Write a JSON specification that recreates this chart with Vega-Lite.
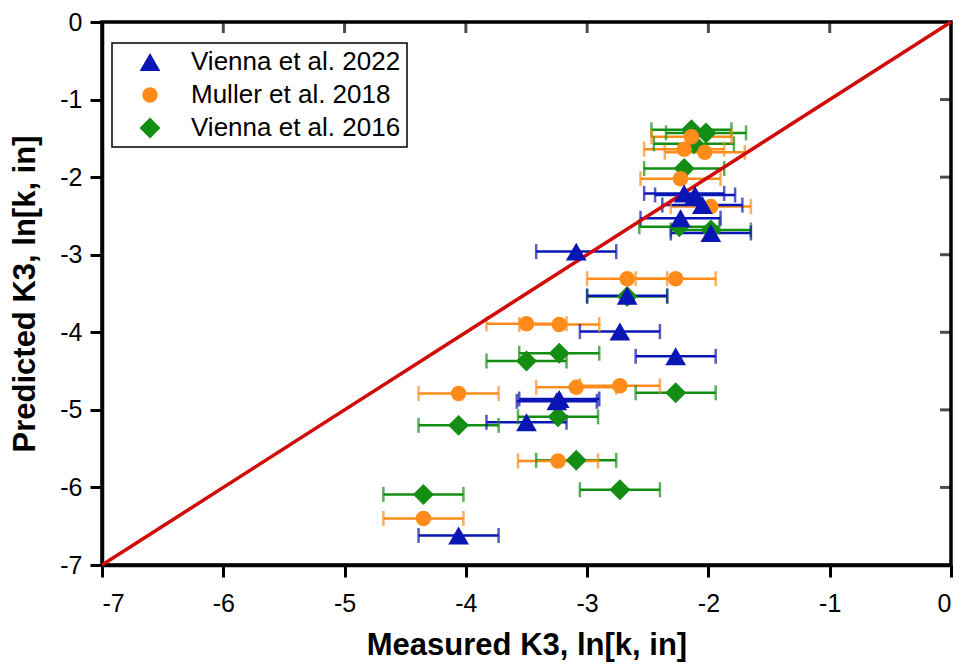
{
  "$schema": "https://vega.github.io/schema/vega-lite/v6.json",
  "width": 849,
  "height": 543,
  "autosize": {"type": "none"},
  "padding": {"left": 102, "top": 22, "right": 10, "bottom": 102},
  "background": "white",
  "datasets": {
    "pts": [
      {"series": "Vienna et al. 2016", "x": -2.14, "y": -1.39, "lo": -2.47, "hi": -1.81},
      {"series": "Vienna et al. 2016", "x": -2.02, "y": -1.43, "lo": -2.35, "hi": -1.69},
      {"series": "Vienna et al. 2016", "x": -2.12, "y": -1.57, "lo": -2.45, "hi": -1.79},
      {"series": "Vienna et al. 2016", "x": -2.20, "y": -1.89, "lo": -2.53, "hi": -1.87},
      {"series": "Vienna et al. 2016", "x": -2.24, "y": -2.64, "lo": -2.57, "hi": -1.91},
      {"series": "Vienna et al. 2016", "x": -1.98, "y": -2.68, "lo": -2.31, "hi": -1.65},
      {"series": "Vienna et al. 2016", "x": -2.67, "y": -3.54, "lo": -3.00, "hi": -2.34},
      {"series": "Vienna et al. 2016", "x": -3.23, "y": -4.27, "lo": -3.56, "hi": -2.90},
      {"series": "Vienna et al. 2016", "x": -3.50, "y": -4.37, "lo": -3.83, "hi": -3.17},
      {"series": "Vienna et al. 2016", "x": -2.27, "y": -4.78, "lo": -2.60, "hi": -1.94},
      {"series": "Vienna et al. 2016", "x": -3.24, "y": -5.09, "lo": -3.57, "hi": -2.91},
      {"series": "Vienna et al. 2016", "x": -4.06, "y": -5.20, "lo": -4.39, "hi": -3.73},
      {"series": "Vienna et al. 2016", "x": -3.09, "y": -5.65, "lo": -3.42, "hi": -2.76},
      {"series": "Vienna et al. 2016", "x": -2.73, "y": -6.03, "lo": -3.06, "hi": -2.40},
      {"series": "Vienna et al. 2016", "x": -4.35, "y": -6.09, "lo": -4.68, "hi": -4.02},
      {"series": "Muller et al. 2018", "x": -2.14, "y": -1.48, "lo": -2.47, "hi": -1.81},
      {"series": "Muller et al. 2018", "x": -2.20, "y": -1.64, "lo": -2.53, "hi": -1.87},
      {"series": "Muller et al. 2018", "x": -2.03, "y": -1.68, "lo": -2.36, "hi": -1.70},
      {"series": "Muller et al. 2018", "x": -2.23, "y": -2.02, "lo": -2.56, "hi": -1.90},
      {"series": "Muller et al. 2018", "x": -1.98, "y": -2.38, "lo": -2.31, "hi": -1.65},
      {"series": "Muller et al. 2018", "x": -2.67, "y": -3.31, "lo": -3.00, "hi": -2.34},
      {"series": "Muller et al. 2018", "x": -2.27, "y": -3.31, "lo": -2.60, "hi": -1.94},
      {"series": "Muller et al. 2018", "x": -3.50, "y": -3.89, "lo": -3.83, "hi": -3.17},
      {"series": "Muller et al. 2018", "x": -3.23, "y": -3.90, "lo": -3.56, "hi": -2.90},
      {"series": "Muller et al. 2018", "x": -4.06, "y": -4.79, "lo": -4.39, "hi": -3.73},
      {"series": "Muller et al. 2018", "x": -3.09, "y": -4.71, "lo": -3.42, "hi": -2.76},
      {"series": "Muller et al. 2018", "x": -2.73, "y": -4.69, "lo": -3.06, "hi": -2.40},
      {"series": "Muller et al. 2018", "x": -3.24, "y": -5.66, "lo": -3.57, "hi": -2.91},
      {"series": "Muller et al. 2018", "x": -4.35, "y": -6.40, "lo": -4.68, "hi": -4.02},
      {"series": "Vienna et al. 2022", "x": -2.20, "y": -2.21, "lo": -2.53, "hi": -1.87},
      {"series": "Vienna et al. 2022", "x": -2.11, "y": -2.23, "lo": -2.44, "hi": -1.78},
      {"series": "Vienna et al. 2022", "x": -2.05, "y": -2.36, "lo": -2.38, "hi": -1.72},
      {"series": "Vienna et al. 2022", "x": -2.23, "y": -2.53, "lo": -2.56, "hi": -1.90},
      {"series": "Vienna et al. 2022", "x": -1.98, "y": -2.72, "lo": -2.31, "hi": -1.65},
      {"series": "Vienna et al. 2022", "x": -3.09, "y": -2.96, "lo": -3.42, "hi": -2.76},
      {"series": "Vienna et al. 2022", "x": -2.67, "y": -3.53, "lo": -3.00, "hi": -2.34},
      {"series": "Vienna et al. 2022", "x": -2.73, "y": -3.99, "lo": -3.06, "hi": -2.40},
      {"series": "Vienna et al. 2022", "x": -2.27, "y": -4.31, "lo": -2.60, "hi": -1.94},
      {"series": "Vienna et al. 2022", "x": -3.25, "y": -4.89, "lo": -3.58, "hi": -2.92},
      {"series": "Vienna et al. 2022", "x": -3.23, "y": -4.86, "lo": -3.56, "hi": -2.90},
      {"series": "Vienna et al. 2022", "x": -3.50, "y": -5.16, "lo": -3.83, "hi": -3.17},
      {"series": "Vienna et al. 2022", "x": -4.06, "y": -6.62, "lo": -4.39, "hi": -3.73}
    ],
    "diag": [
      {"x": -7, "y": -7, "x2": 0, "y2": 0}
    ],
    "tk": [
      {"tv": -6}, {"tv": -5}, {"tv": -4}, {"tv": -3}, {"tv": -2}, {"tv": -1}
    ]
  },
  "resolve": {
    "legend": {"color": "independent", "shape": "independent", "size": "independent"}
  },
  "layer": [
    {
      "data": {"name": "pts"},
      "mark": {"type": "rule", "strokeWidth": 2.5},
      "encoding": {
        "x": {"field": "lo", "type": "quantitative",
              "scale": {"domain": [-7, 0], "nice": false, "zero": false},
              "axis": {"orient": "bottom", "values": [-7, -6, -5, -4, -3, -2, -1, 0], "labelExpr": "'' + datum.value",
                       "title": "Measured K3, ln[k, in]", "labelPadding": 14, "titlePadding": 14, "grid": false}},
        "x2": {"field": "hi"},
        "y": {"field": "y", "type": "quantitative",
              "scale": {"domain": [-7, 0], "nice": false, "zero": false},
              "axis": {"orient": "left", "values": [-7, -6, -5, -4, -3, -2, -1, 0], "labelExpr": "'' + datum.value",
                       "title": "Predicted K3, ln[k, in]", "labelPadding": 8, "titlePadding": 18, "grid": false}},
        "color": {"field": "series", "type": "nominal", "legend": null,
                  "scale": {"domain": ["Vienna et al. 2022", "Muller et al. 2018", "Vienna et al. 2016"],
                            "range": ["#0a16b4", "#ff8c1a", "#138e13"]}}
      }
    },
    {
      "data": {"name": "tk"},
      "mark": {"type": "tick", "orient": "vertical", "thickness": 3, "size": 11, "color": "black", "yOffset": 5.5},
      "encoding": {
        "x": {"field": "tv", "type": "quantitative"},
        "y": {"datum": 0, "type": "quantitative"}
      }
    },
    {
      "data": {"name": "tk"},
      "mark": {"type": "tick", "orient": "horizontal", "thickness": 3, "size": 11, "color": "black", "xOffset": -5.5},
      "encoding": {
        "y": {"field": "tv", "type": "quantitative"},
        "x": {"datum": 0, "type": "quantitative"}
      }
    },
    {
      "data": {"name": "pts"},
      "mark": {"type": "tick", "orient": "vertical", "thickness": 2.5, "size": 15},
      "encoding": {
        "x": {"field": "lo", "type": "quantitative"},
        "y": {"field": "y", "type": "quantitative"},
        "color": {"field": "series", "type": "nominal", "legend": null}
      }
    },
    {
      "data": {"name": "pts"},
      "mark": {"type": "tick", "orient": "vertical", "thickness": 2.5, "size": 15},
      "encoding": {
        "x": {"field": "hi", "type": "quantitative"},
        "y": {"field": "y", "type": "quantitative"},
        "color": {"field": "series", "type": "nominal", "legend": null}
      }
    },
    {
      "data": {"name": "diag"},
      "mark": {"type": "rule", "color": "#d10a0a", "strokeWidth": 3.5},
      "encoding": {
        "x": {"field": "x", "type": "quantitative"},
        "y": {"field": "y", "type": "quantitative"},
        "x2": {"field": "x2"},
        "y2": {"field": "y2"}
      }
    },
    {
      "data": {"name": "pts"},
      "mark": {"type": "point", "filled": true, "opacity": 1, "strokeWidth": 0},
      "encoding": {
        "x": {"field": "x", "type": "quantitative"},
        "y": {"field": "y", "type": "quantitative"},
        "color": {"field": "series", "type": "nominal",
                  "legend": {"orient": "none", "legendX": 10, "legendY": 21, "labelLimit": 0}},
        "shape": {"field": "series", "type": "nominal",
                  "scale": {"domain": ["Vienna et al. 2022", "Muller et al. 2018", "Vienna et al. 2016"],
                            "range": ["triangle-up", "circle", "diamond"]}},
        "size": {"field": "series", "type": "nominal",
                 "scale": {"type": "ordinal", "domain": ["Vienna et al. 2022", "Muller et al. 2018", "Vienna et al. 2016"],
                           "range": [430, 240, 440]}}
      }
    }
  ],
  "config": {
    "view": {"stroke": "black", "strokeWidth": 3.5},
    "axis": {
      "grid": false,
      "domainColor": "black",
      "domainWidth": 3.5,
      "tickColor": "black",
      "tickWidth": 3,
      "tickSize": 12,
      "labelFont": "Liberation Sans",
      "labelFontSize": 25,
      "labelColor": "black",
      "titleFont": "Liberation Sans",
      "titleFontSize": 31,
      "titleFontWeight": "bold",
      "titleColor": "black"
    },
    "legend": {
      "orient": "none",
      "legendX": 10,
      "legendY": 21,
      "title": null,
      "strokeColor": "black",
      "strokeWidth": 1.5,
      "fillColor": "white",
      "padding": 6,
      "labelFont": "Liberation Sans",
      "labelFontSize": 26,
      "labelLimit": 0,
      "labelColor": "black",
      "symbolOffset": 19,
      "labelOffset": 28,
      "rowPadding": 7,
      "symbolStrokeWidth": 0
    }
  }
}
